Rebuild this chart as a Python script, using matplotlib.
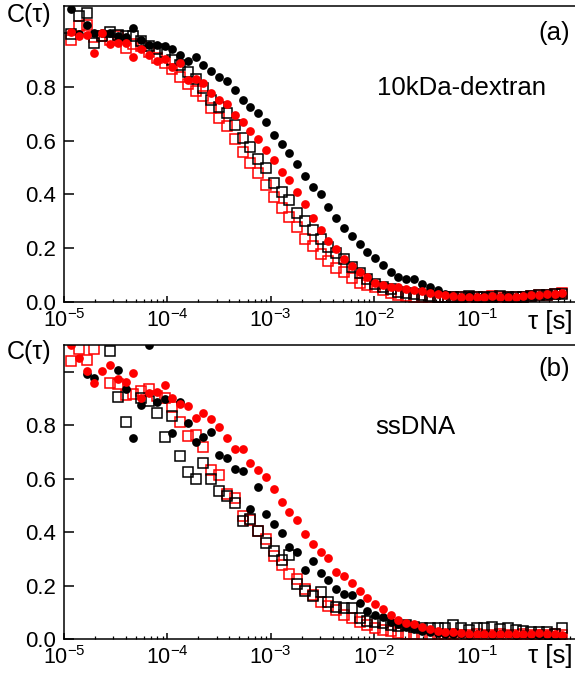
#plot.py
#FCS autocorrelation curves, two panels (10kDa-dextran / ssDNA)

import numpy as np
import matplotlib
matplotlib.use("Agg")
import matplotlib.pyplot as plt
from matplotlib.ticker import FixedLocator, LogLocator, NullFormatter

plt.rcParams['font.family'] = ['Liberation Sans', 'DejaVu Sans']
plt.rcParams['mathtext.fontset'] = 'custom'
plt.rcParams['mathtext.rm'] = 'Liberation Sans'
plt.rcParams['mathtext.it'] = 'Liberation Sans:italic'

nan = np.nan

# lag times [s] (shared by all curves)
tau = [1.17e-5, 1.39e-5, 1.66e-5, 1.97e-5, 2.34e-5, 2.79e-5, 3.32e-5, 3.95e-5,
       4.70e-5, 5.58e-5, 6.65e-5, 7.91e-5, 9.42e-5, 1.12e-4, 1.33e-4, 1.58e-4,
       1.89e-4, 2.24e-4, 2.67e-4, 3.18e-4, 3.78e-4, 4.50e-4, 5.36e-4, 6.37e-4,
       7.59e-4, 9.02e-4, 1.07e-3, 1.28e-3, 1.52e-3, 1.81e-3, 2.15e-3, 2.56e-3,
       3.05e-3, 3.62e-3, 4.31e-3, 5.13e-3, 6.11e-3, 7.26e-3, 8.65e-3, 1.03e-2,
       1.22e-2, 1.46e-2, 1.73e-2, 2.06e-2, 2.45e-2, 2.92e-2, 3.47e-2, 4.13e-2,
       4.92e-2, 5.85e-2, 6.97e-2, 8.28e-2, 9.86e-2, 0.117, 0.140, 0.166,
       0.198, 0.235, 0.280, 0.333, 0.396, 0.471, 0.561, 0.667]

# (a) 10kDa-dextran
a_black_circ = [1.088, 0.995, 1.03, 0.999, 1.0, 1.0, 0.99, 0.985, 1.02, 0.974,
                0.955, 0.955, 0.95, 0.94, 0.918, 0.897, 0.912, 0.879, 0.859, 0.835,
                0.82, 0.788, 0.751, 0.724, 0.701, 0.668, 0.621, 0.587, 0.555, 0.512,
                0.47, 0.426, 0.40, 0.352, 0.311, 0.276, 0.245, 0.214, 0.187, 0.162,
                0.138, 0.113, 0.092, 0.084, 0.084, 0.067, 0.055, 0.045, 0.03, 0.022,
                0.02, 0.025, 0.02, 0.022, 0.018, 0.02, 0.022, 0.02, 0.018, 0.022,
                0.025, 0.025, 0.028, 0.03]
a_red_circ = [1.003, 0.99, 0.993, 0.924, 0.999, 0.958, 0.964, 0.964, 0.91, 0.94,
              0.918, 0.896, 0.902, 0.875, 0.89, 0.825, 0.828, 0.813, 0.776, 0.751,
              0.735, 0.695, 0.668, 0.636, 0.605, 0.565, 0.528, 0.484, 0.454, 0.408,
              0.364, 0.311, 0.268, 0.228, 0.196, 0.159, 0.134, 0.113, 0.094, 0.072,
              0.062, 0.055, 0.055, 0.047, 0.045, 0.04, 0.032, 0.028, 0.025, 0.022,
              0.02, 0.02, 0.018, 0.02, 0.022, 0.02, 0.018, 0.02, 0.022, 0.025,
              0.025, 0.028, 0.03, 0.035]
a_black_sq = [0.995, 1.063, 1.073, 0.961, 0.99, 1.003, 0.993, 0.99, 0.99, 0.97,
              0.95, 0.94, 0.93, 0.9, 0.88, 0.855, 0.83, 0.794, 0.751, 0.724,
              0.701, 0.658, 0.611, 0.577, 0.53, 0.499, 0.444, 0.41, 0.379, 0.33,
              0.30, 0.268, 0.235, 0.206, 0.183, 0.159, 0.131, 0.107, 0.084, 0.067,
              0.055, 0.047, 0.038, 0.032, 0.028, 0.025, 0.022, 0.02, 0.02, 0.018,
              0.02, 0.022, 0.018, 0.02, 0.02, 0.022, 0.02, 0.018, 0.02, 0.022,
              0.025, 0.025, 0.028, 0.03]
a_red_sq = [0.975, 1.026, 1.03, 0.985, 0.99, 0.974, 0.99, 0.944, 0.96, 0.95,
            0.93, 0.908, 0.89, 0.865, 0.838, 0.81, 0.784, 0.765, 0.72, 0.685,
            0.655, 0.605, 0.559, 0.516, 0.478, 0.435, 0.389, 0.348, 0.317, 0.28,
            0.233, 0.21, 0.178, 0.151, 0.128, 0.112, 0.088, 0.072, 0.063, 0.055,
            0.045, 0.035, 0.026, 0.022, 0.02, 0.018, 0.018, 0.02, 0.02, 0.018,
            0.02, 0.02, 0.018, 0.02, 0.022, 0.02, 0.018, 0.02, 0.02, 0.022,
            0.025, 0.025, 0.028, 0.032]

# (b) ssDNA
b_black_circ = [nan, nan, 0.992, 0.977, nan, nan, 1.005, 0.934, 0.752, 0.876,
                1.099, 0.888, 0.898, 0.771, 0.886, 0.808, 0.738, 0.754, 0.776, 0.688,
                0.679, 0.635, 0.629, 0.488, 0.57, 0.469, 0.429, 0.397, 0.343, 0.326,
                0.259, 0.293, 0.247, 0.222, 0.188, 0.168, 0.165, 0.134, 0.105, 0.088,
                0.084, 0.063, 0.055, 0.046, 0.038, 0.03, 0.025, 0.022, 0.02, 0.018,
                0.02, 0.016, 0.02, 0.018, 0.015, 0.02, 0.018, 0.015, 0.018, 0.015,
                0.015, 0.013, 0.015, 0.013]
b_red_circ = [1.099, 1.053, 1.003, 0.957, 1.003, 1.024, 0.971, 0.96, 0.996, 0.902,
              0.92, 0.923, 0.952, 0.90, 0.88, 0.873, 0.827, 0.846, 0.823, 0.794,
              0.753, 0.711, 0.711, 0.66, 0.633, 0.608, 0.56, 0.512, 0.475, 0.444,
              0.394, 0.356, 0.324, 0.303, 0.251, 0.234, 0.209, 0.178, 0.155, 0.13,
              0.112, 0.088, 0.071, 0.059, 0.055, 0.046, 0.038, 0.03, 0.028, 0.025,
              0.022, 0.02, 0.02, 0.018, 0.02, 0.02, 0.018, 0.02, 0.018, 0.02,
              0.022, 0.02, 0.018, 0.015]
b_black_sq = [nan, nan, nan, nan, nan, 1.078, 0.905, 0.813, nan, 0.901,
              0.89, 0.846, 0.754, 0.836, 0.685, 0.626, 0.60, 0.658, 0.60, 0.553,
              0.535, 0.51, 0.44, 0.449, 0.405, 0.36, 0.33, 0.297, 0.316, 0.206,
              0.181, 0.162, 0.176, 0.14, 0.121, 0.115, 0.115, 0.08, 0.068, 0.063,
              0.059, 0.053, 0.05, 0.053, 0.045, 0.04, 0.04, 0.04, 0.042, 0.053,
              0.04, 0.035, 0.043, 0.043, 0.045, 0.038, 0.043, 0.034, 0.03, 0.028,
              0.028, 0.028, 0.02, 0.04]
b_red_sq = [1.039, 1.084, 1.043, 1.085, nan, 0.958, 0.953, 0.912, 0.917, 0.927,
            0.936, 0.911, 0.90, 0.867, 0.811, 0.761, 0.763, 0.717, 0.632, 0.615,
            0.542, 0.527, 0.461, 0.444, 0.403, 0.375, 0.31, 0.277, 0.244, 0.223,
            0.187, 0.165, 0.14, 0.125, 0.109, 0.09, 0.078, 0.063, 0.053, 0.043,
            0.035, 0.03, 0.024, 0.02, 0.018, 0.015, 0.015, 0.018, 0.015, 0.018,
            0.015, 0.015, 0.018, 0.015, 0.015, 0.018, 0.015, 0.015, 0.018, 0.015,
            0.015, 0.015, 0.018, 0.015]

panels = [
    ("(a)", 0.909, a_black_circ, a_red_circ, a_black_sq, a_red_sq),
    ("(b)", 0.920, b_black_circ, b_red_circ, b_black_sq, b_red_sq),
]

RED = '#ff0000'

fig = plt.figure(figsize=(5.75, 6.77), dpi=100)
ax_a = fig.add_axes([0.1113, 0.5539, 0.8887, 0.4372])
ax_b = fig.add_axes([0.1113, 0.0561, 0.8887, 0.4343])

for ax, (tag, tag_y, bc, rc, bs, rs) in zip([ax_a, ax_b], panels):
    ax.plot(tau, rs, ls='none', marker='s', ms=7.0, mfc='none', mec=RED, mew=1.1)
    ax.plot(tau, bs, ls='none', marker='s', ms=7.0, mfc='none', mec='black', mew=1.1)
    ax.plot(tau, bc, ls='none', marker='o', ms=6.3, mfc='black', mec='black', mew=0)
    ax.plot(tau, rc, ls='none', marker='o', ms=6.3, mfc=RED, mec=RED, mew=0)

    ax.set_xscale('log')
    ax.set_xlim(1e-5, 0.885)
    ax.set_ylim(0, 1.1)

    ax.spines['right'].set_visible(False)
    for s in ['left', 'bottom', 'top']:
        ax.spines[s].set_linewidth(1.1)

    ax.yaxis.set_major_locator(FixedLocator([0.0, 0.2, 0.4, 0.6, 0.8, 1.0]))
    ax.set_yticklabels(['0.0', '0.2', '0.4', '0.6', '0.8', ''])
    ax.xaxis.set_major_locator(LogLocator(base=10, numticks=10))
    ax.xaxis.set_minor_locator(LogLocator(base=10, subs=np.arange(2, 10), numticks=20))
    ax.xaxis.set_minor_formatter(NullFormatter())

    ax.tick_params(axis='y', direction='in', length=7, width=1.1, labelsize=16, pad=6,
                   right=False)
    ax.tick_params(axis='x', which='major', direction='in', length=4, width=1.1,
                   labelsize=15.5, pad=5, top=False)
    ax.tick_params(axis='x', which='minor', direction='in', length=2, width=0.9, top=False)

    ax.text(0.99, tag_y, tag, transform=ax.transAxes, fontsize=18.5, ha='right', va='center')

# labels placed in figure coordinates
fig.text(0.012, 0.978, "C(τ)", fontsize=18, ha='left', va='center')
fig.text(0.012, 0.480, "C(τ)", fontsize=18, ha='left', va='center')
fig.text(0.996, 0.524, "τ [s]", fontsize=18.5, ha='right', va='center')
fig.text(0.996, 0.031, "τ [s]", fontsize=18.5, ha='right', va='center')
fig.text(0.803, 0.870, "10kDa-dextran", fontsize=18.5, ha='center', va='center')
fig.text(0.722, 0.369, "ssDNA", fontsize=18.5, ha='center', va='center')

fig.savefig("out.png", dpi=100)
